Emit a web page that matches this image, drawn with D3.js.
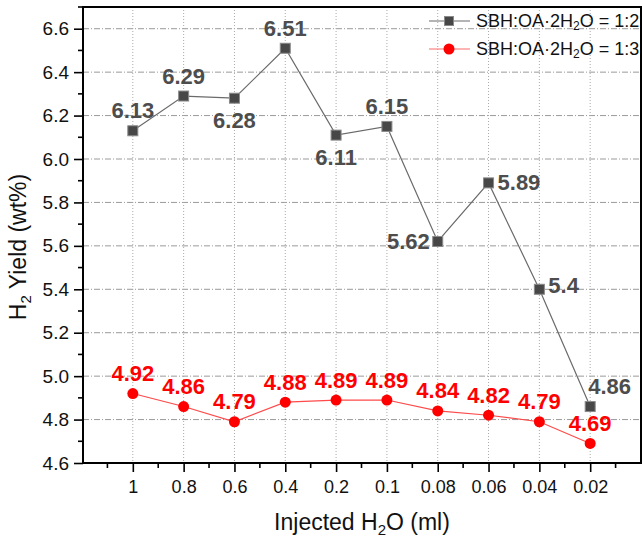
<!DOCTYPE html>
<html>
<head>
<meta charset="utf-8">
<script src="https://d3js.org/d3.v7.min.js"></script>
<style>
  body { margin: 0; background: #fff; }
  svg { font-family: "Liberation Sans", Arial, sans-serif; }
</style>
</head>
<body>
<svg id="chart" width="642" height="538"></svg>
<script>
// data
var categories = ["1", "0.8", "0.6", "0.4", "0.2", "0.1", "0.08", "0.06", "0.04", "0.02"];
var ratio12 = [6.13, 6.29, 6.28, 6.51, 6.11, 6.15, 5.62, 5.89, 5.4, 4.86];
var ratio13 = [4.92, 4.86, 4.79, 4.88, 4.89, 4.89, 4.84, 4.82, 4.79, 4.69];
var yTicks = [4.6, 4.8, 5.0, 5.2, 5.4, 5.6, 5.8, 6.0, 6.2, 6.4, 6.6];
var seriesNames = ["1:2", "1:3"];

// where each value label sits relative to its point
var labelPos12 = ["t", "t", "b", "t", "b", "t", "l", "r", "r", "tr"];
var labelPos13 = ["t", "t", "t", "t", "t", "t", "t", "t", "t", "t"];

// plot box (window.top is reserved, so different names)
var pLeft = 83, pRight = 641, pTop = 7, pBottom = 463;

var svg = d3.select("#chart");

var x = d3.scaleLinear().domain([0, categories.length + 1]).range([pLeft - 1, pRight]);
var y = d3.scaleLinear().domain([4.6, 6.7]).range([pBottom, pTop]);

// grid
svg.append("g").selectAll("line")
    .data(yTicks.slice(1))
    .enter().append("line")
    .attr("x1", pLeft).attr("x2", pRight)
    .attr("y1", d => y(d)).attr("y2", d => y(d))
    .attr("stroke", "#9a9a9a").attr("stroke-width", 1)
    .attr("stroke-dasharray", "6,2,1,2");

svg.append("g").selectAll("line")
    .data(categories)
    .enter().append("line")
    .attr("x1", (d, i) => x(i + 1)).attr("x2", (d, i) => x(i + 1))
    .attr("y1", pTop).attr("y2", pBottom)
    .attr("stroke", "#aaaaaa").attr("stroke-width", 1)
    .attr("stroke-dasharray", "1,2");

// axes
var xAxis = d3.axisBottom(x)
    .tickValues(d3.range(1, categories.length + 1))
    .tickFormat(d => categories[d - 1])
    .tickSize(9).tickSizeOuter(0).tickPadding(8);

var gx = svg.append("g")
    .attr("transform", "translate(0," + pBottom + ")")
    .call(xAxis);
gx.selectAll("text").style("font-size", "18px").attr("fill", "#111");
gx.selectAll("line").attr("stroke-width", 1.6);
gx.select(".domain").remove();

var xMinor = d3.range(0.5, categories.length + 1, 1);
svg.append("g").selectAll("line")
    .data(xMinor)
    .enter().append("line")
    .attr("x1", d => x(d)).attr("x2", d => x(d))
    .attr("y1", pBottom).attr("y2", pBottom + 5)
    .attr("stroke", "#000").attr("stroke-width", 1.6);

var yAxis = d3.axisLeft(y)
    .tickValues(yTicks)
    .tickFormat(d3.format(".1f"))
    .tickSize(9).tickSizeOuter(0).tickPadding(5);

var gy = svg.append("g")
    .attr("transform", "translate(" + pLeft + ",0)")
    .call(yAxis);
gy.selectAll("text").style("font-size", "19px").attr("fill", "#111");
gy.selectAll("line").attr("stroke-width", 1.6);
gy.select(".domain").remove();

var yMinor = d3.range(4.7, 6.75, 0.2);
svg.append("g").selectAll("line")
    .data(yMinor)
    .enter().append("line")
    .attr("x1", pLeft - 5).attr("x2", pLeft)
    .attr("y1", d => y(d)).attr("y2", d => y(d))
    .attr("stroke", "#000").attr("stroke-width", 1.6);

// frame
svg.append("rect")
    .attr("x", pLeft).attr("y", pTop)
    .attr("width", pRight - pLeft).attr("height", pBottom - pTop)
    .attr("fill", "none").attr("stroke", "#000").attr("stroke-width", 2);

// axis titles
var xt = svg.append("text")
    .attr("x", (pLeft + pRight) / 2).attr("y", 530)
    .attr("text-anchor", "middle")
    .style("font-size", "23px").attr("fill", "#111");
xt.append("tspan").text("Injected H");
xt.append("tspan").text("2").style("font-size", "15px").attr("dy", 5);
xt.append("tspan").text("O (ml)").attr("dy", -5);

var yt = svg.append("text")
    .attr("transform", "translate(26,247) rotate(-90)")
    .attr("text-anchor", "middle")
    .style("font-size", "23px").attr("fill", "#111");
yt.append("tspan").text("H");
yt.append("tspan").text("2").style("font-size", "15px").attr("dy", 5);
yt.append("tspan").text(" Yield (wt%)").attr("dy", -5);

// series
var line = d3.line().x((d, i) => x(i + 1)).y(d => y(d));

svg.append("path").datum(ratio12)
    .attr("d", line).attr("fill", "none")
    .attr("stroke", "#6a6a6a").attr("stroke-width", 1.2);

svg.append("path").datum(ratio13)
    .attr("d", line).attr("fill", "none")
    .attr("stroke", "#ff4a4a").attr("stroke-width", 1.2);

svg.append("g").selectAll("rect")
    .data(ratio12)
    .enter().append("rect")
    .attr("x", (d, i) => x(i + 1) - 5).attr("y", d => y(d) - 5)
    .attr("width", 10).attr("height", 10)
    .attr("fill", "#474747").attr("stroke", "#8a8a8a").attr("stroke-width", 1);

svg.append("g").selectAll("circle")
    .data(ratio13)
    .enter().append("circle")
    .attr("cx", (d, i) => x(i + 1)).attr("cy", d => y(d))
    .attr("r", 5.5).attr("fill", "#ff0000");

// value labels
function addLabels(values, pos, colour) {
    svg.append("g").selectAll("text")
        .data(values)
        .enter().append("text")
        .attr("x", (d, i) => {
            var p = pos[i], cx = x(i + 1);
            if (p == "l") return cx - 8;
            if (p == "r") return cx + 9;
            if (p == "tr") return cx - 2;
            return cx;
        })
        .attr("y", (d, i) => {
            var p = pos[i], cy = y(d);
            if (p == "t") return cy - 20;
            if (p == "b") return cy + 22;
            if (p == "tr") return cy - 20;
            if (p == "r" && d < 5.5) return cy - 4;
            return cy;
        })
        .attr("text-anchor", (d, i) => {
            var p = pos[i];
            if (p == "l") return "end";
            if (p == "r" || p == "tr") return "start";
            return "middle";
        })
        .attr("dominant-baseline", "central")
        .style("font-size", "22px").style("font-weight", "bold")
        .attr("fill", colour)
        .text(d => d);
}
addLabels(ratio12, labelPos12, "#4d4d4d");
addLabels(ratio13, labelPos13, "#ff0000");

// legend
var legend = svg.append("g");
var legendRows = [
    { name: seriesNames[0], line: "#6a6a6a", y: 21 },
    { name: seriesNames[1], line: "#ff6a6a", y: 49 }
];
legendRows.forEach(function (r, k) {
    legend.append("line")
        .attr("x1", 429).attr("x2", 470)
        .attr("y1", r.y).attr("y2", r.y)
        .attr("stroke", r.line).attr("stroke-width", 1.2);
    if (k == 0) {
        legend.append("rect")
            .attr("x", 444.5).attr("y", r.y - 4.5)
            .attr("width", 9).attr("height", 9)
            .attr("fill", "#474747").attr("stroke", "#8a8a8a");
    } else {
        legend.append("circle")
            .attr("cx", 449).attr("cy", r.y).attr("r", 5.5)
            .attr("fill", "#ff0000");
    }
    var t = legend.append("text")
        .attr("x", 476).attr("y", r.y)
        .attr("dominant-baseline", "central")
        .style("font-size", "18px").attr("fill", "#111");
    t.append("tspan").text("SBH:OA\u00b72H");
    t.append("tspan").text("2").style("font-size", "12px").attr("dy", 5);
    t.append("tspan").text("O = " + r.name).attr("dy", -5);
});
</script>
</body>
</html>
